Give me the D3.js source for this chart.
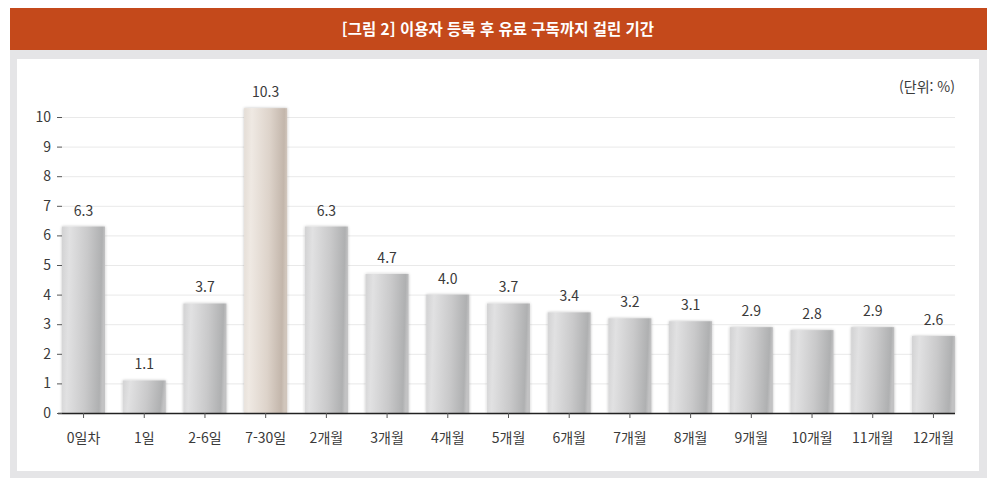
<!DOCTYPE html>
<html lang="ko">
<head>
    <meta charset="UTF-8">
    <title>이용자 등록 후 유료 구독까지 걸린 기간</title>
    <script src="https://cdn.jsdelivr.net/npm/d3@7/dist/d3.min.js"></script>
</head>
<style>
    body {
        margin: 0;
        background: #fff;
        font-family: "Noto Sans CJK KR", "Noto Sans", sans-serif;
    }

    .tickText {
        fill: #3a3a3a;
        font-size: 14px;
    }

    .valText {
        fill: #3a3a3a;
        font-size: 14px;
        text-anchor: middle;
    }
</style>
<body>
<script>
    var categories = ['0일차', '1일', '2-6일', '7-30일', '2개월', '3개월', '4개월', '5개월', '6개월', '7개월', '8개월', '9개월', '10개월', '11개월', '12개월'];
    var values = [6.3, 1.1, 3.7, 10.3, 6.3, 4.7, 4.0, 3.7, 3.4, 3.2, 3.1, 2.9, 2.8, 2.9, 2.6];
    var yTicks = [0, 1, 2, 3, 4, 5, 6, 7, 8, 9, 10];
    var highlight = '7-30일';

    var width = 994;
    var height = 486;

    var svg = d3.select('body')
        .append('svg')
        .attr('width', width)
        .attr('height', height)

    // 그라디언트 정의
    var defs = svg.append('defs');
    function addGrad(id, stops) {
        var g = defs.append('linearGradient')
            .attr('id', id)
            .attr('x1', '0%').attr('y1', '0%')
            .attr('x2', '100%').attr('y2', '8%');
        stops.forEach(function (s) {
            g.append('stop').attr('offset', s[0]).attr('stop-color', s[1]);
        });
    }
    addGrad('grayGrad', [['0%', '#d2d2d3'], ['18%', '#e1e1e2'], ['60%', '#c9c9ca'], ['93%', '#afb0b1'], ['100%', '#c2c2c3']]);
    addGrad('beigeGrad', [['0%', '#e4ddd6'], ['18%', '#efe9e3'], ['60%', '#ddd3ca'], ['93%', '#c3b6ab'], ['100%', '#d0c5bb']]);

    var shadow = defs.append('filter').attr('id', 'shadow')
        .attr('x', '-20%').attr('y', '-10%').attr('width', '140%').attr('height', '120%');
    shadow.append('feGaussianBlur').attr('in', 'SourceAlpha').attr('stdDeviation', 1.5);
    shadow.append('feOffset').attr('dx', 0).attr('dy', 0).attr('result', 'b');
    shadow.append('feComponentTransfer').append('feFuncA').attr('type', 'linear').attr('slope', 0.25);
    var merge = shadow.append('feMerge');
    merge.append('feMergeNode');
    merge.append('feMergeNode').attr('in', 'SourceGraphic');

    // 틀
    svg.append('rect')
        .attr('x', 10).attr('y', 50)
        .attr('width', 977).attr('height', 428)
        .attr('fill', '#e5e5e7');
    svg.append('rect')
        .attr('x', 17).attr('y', 59)
        .attr('width', 962).attr('height', 412)
        .attr('fill', '#ffffff');
    svg.append('rect')
        .attr('x', 10).attr('y', 8)
        .attr('width', 977).attr('height', 42)
        .attr('fill', '#c4491b');
    svg.append('text')
        .attr('x', 498).attr('y', 35)
        .attr('text-anchor', 'middle')
        .attr('fill', '#ffffff')
        .attr('font-size', 15.5)
        .attr('font-weight', 'bold')
        .text('[그림 2] 이용자 등록 후 유료 구독까지 걸린 기간');

    svg.append('text')
        .attr('class', 'tickText')
        .attr('x', 955).attr('y', 92)
        .attr('text-anchor', 'end')
        .attr('font-size', 13)
        .text('(단위: %)');

    var padding = {left: 62, right: 39, top: 117, bottom: 73}
    var plotW = width - padding.left - padding.right;
    var plotH = height - padding.top - padding.bottom;

    var xScale = d3.scaleBand()
        .domain(categories)
        .range([0, plotW])
        .paddingInner(0.29)
        .paddingOuter(0)

    var yScale = d3.scaleLinear()
        .domain([0, 10])
        .range([plotH, 0])

    var g = svg.append('g')
        .attr('transform', 'translate(' + padding.left + ',' + (padding.top) + ')');

    // 격자
    g.selectAll('.grid')
        .data(yTicks.filter(function (d) { return d > 0; }))
        .enter()
        .append('line')
        .attr('x1', 0).attr('x2', plotW)
        .attr('y1', function (d) { return yScale(d) + 0.5; })
        .attr('y2', function (d) { return yScale(d) + 0.5; })
        .attr('stroke', '#e9e9e9')
        .attr('stroke-width', 1);

    // 막대
    g.selectAll('.bar')
        .data(values)
        .enter()
        .append('rect')
        .attr('x', function (d, i) { return xScale(categories[i]); })
        .attr('y', function (d) { return yScale(d); })
        .attr('width', xScale.bandwidth())
        .attr('height', function (d) { return yScale(0) - yScale(d); })
        .attr('fill', function (d, i) { return categories[i] === highlight ? 'url(#beigeGrad)' : 'url(#grayGrad)'; })
        .attr('filter', 'url(#shadow)');

    // 값 라벨
    g.selectAll('.valText')
        .data(values)
        .enter()
        .append('text')
        .attr('class', 'valText')
        .attr('x', function (d, i) { return xScale(categories[i]) + xScale.bandwidth() / 2; })
        .attr('y', function (d) { return yScale(d) - 11; })
        .text(function (d) { return d3.format('.1f')(d); });

    // x축
    var xAxis = d3.axisBottom(xScale).tickSize(5).tickPadding(15);
    var xg = g.append('g')
        .attr('transform', 'translate(0,' + yScale(0) + ')')
        .call(xAxis);
    xg.select('.domain')
        .attr('d', 'M-4,0.5H' + plotW)
        .attr('stroke', '#222')
        .attr('stroke-width', 1.3);
    xg.selectAll('.tick line').attr('stroke', '#555');
    xg.selectAll('.tick text')
        .attr('class', 'tickText')
        .style('font-family', '"Noto Sans CJK KR", sans-serif');

    // y축
    var yAxis = d3.axisLeft(yScale).tickValues(yTicks).tickSize(5).tickPadding(6)
        .tickFormat(d3.format('d'));
    var yg = g.append('g')
        .call(yAxis);
    yg.select('.domain').remove();
    yg.selectAll('.tick line').attr('stroke', '#555');
    yg.selectAll('.tick text')
        .attr('class', 'tickText')
        .style('font-family', '"Noto Sans CJK KR", sans-serif');
</script>

</body>
</html>
